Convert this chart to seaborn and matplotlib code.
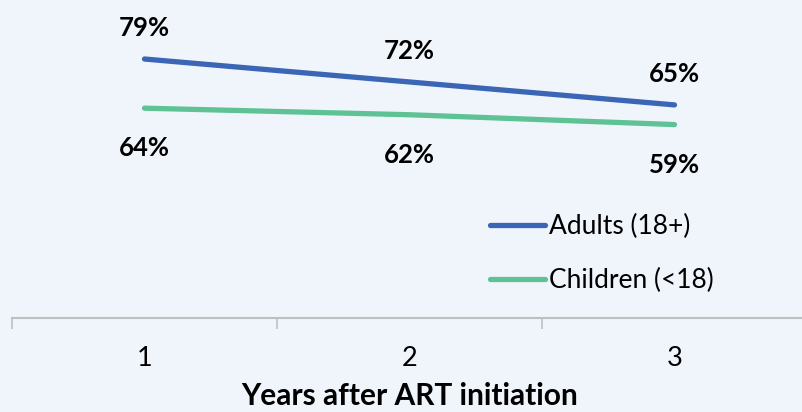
import numpy as np
import pandas as pd
import seaborn as sns
import matplotlib.pyplot as plt

years = [1, 2, 3]
adults = [79, 72, 65]
children = [64, 62, 59]
groups = ["Adults (18+)", "Children (<18)"]
colors = ["#3A66B5", "#5EC295"]

df = pd.DataFrame({
    "year": years * 2,
    "value": adults + children,
    "group": [groups[0]] * 3 + [groups[1]] * 3,
})

sns.set_theme(style="white")
plt.rcParams["font.family"] = ["Lato", "DejaVu Sans"]
plt.rcParams["text.color"] = "black"
plt.rcParams["axes.labelcolor"] = "black"
plt.rcParams["xtick.labelcolor"] = "black"

fig = plt.figure(figsize=(8.03, 4.12), dpi=100)
fig.patch.set_facecolor("#F0F5FC")
ax = fig.add_axes([12 / 803, 94 / 412, 795 / 803, 318 / 412])
ax.set_facecolor("#F0F5FC")

sns.lineplot(data=df, x="year", y="value", hue="group", palette=colors,
             linewidth=3.8, ax=ax, solid_capstyle="round")

# value labels
for x, v in zip(years, adults):
    ax.annotate(f"{v}%", (x, v), xytext=(0, 22), textcoords="offset points",
                ha="center", va="center", fontsize=18.5, fontweight="bold")
for x, v in zip(years, children):
    ax.annotate(f"{v}%", (x, v), xytext=(0, -29), textcoords="offset points",
                ha="center", va="center", fontsize=18.5, fontweight="bold")

ax.set_xlim(0.5, 3.5)
ax.set_ylim(0, 97)
ax.set_xticks(years)
ax.set_xticklabels([str(y) for y in years], fontsize=19.5)
ax.set_xticks([0.5, 1.5, 2.5, 3.5], minor=True)
ax.tick_params(axis="x", which="major", bottom=False, length=0, pad=20)
ax.tick_params(axis="x", which="minor", bottom=True, length=8, width=1.2,
               color="#BFBFBF", direction="out")
ax.set_yticks([])
ax.set_xlabel("Years after ART initiation", fontsize=21.5, fontweight="bold", labelpad=8)
ax.set_ylabel("")

for s in ["top", "right", "left"]:
    ax.spines[s].set_visible(False)
ax.spines["bottom"].set_color("#BFBFBF")
ax.spines["bottom"].set_linewidth(1.5)

leg = ax.legend(loc="lower left", bbox_to_anchor=(454 / 795, 0.003), frameon=False,
                fontsize=19, handlelength=2.08, handletextpad=0.15, labelspacing=1.1)
for line in leg.get_lines():
    line.set_linewidth(3.8)
    line.set_solid_capstyle("round")

fig.savefig("out.png", dpi=100, facecolor=fig.get_facecolor())
